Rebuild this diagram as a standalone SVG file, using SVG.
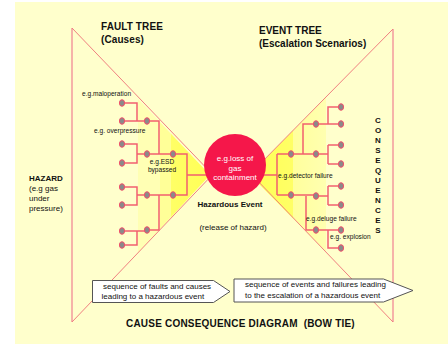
<svg xmlns="http://www.w3.org/2000/svg" width="448" height="344" viewBox="0 0 448 344">
<style>
.t{font-family:"Liberation Sans",Arial,sans-serif;fill:#111}
.b{font-weight:bold}
.s{font-size:6.6px}
.w{font-size:8px}
.tri{stroke:#f08080;stroke-width:1;fill:none}
.vl{stroke:#f4a0a0;stroke-width:1.6;fill:none}
.wire{stroke:#f2606f;stroke-width:1.5;fill:none}
.nd{fill:#8a8a8a;stroke:#f2506a;stroke-width:1}
.box{fill:#fff;stroke:#555;stroke-width:1}
</style>
<defs>
<linearGradient id="gl" x1="138" y1="0" x2="210" y2="0" gradientUnits="userSpaceOnUse">
<stop offset="0" stop-color="#ffffb4"/><stop offset="0.31" stop-color="#ffffb4"/>
<stop offset="0.31" stop-color="#ffff98"/><stop offset="0.46" stop-color="#ffff98"/>
<stop offset="0.46" stop-color="#ffff66"/><stop offset="1" stop-color="#ffff55"/>
</linearGradient>
<linearGradient id="gr" x1="255" y1="0" x2="326" y2="0" gradientUnits="userSpaceOnUse">
<stop offset="0" stop-color="#ffff55"/><stop offset="0.53" stop-color="#ffff66"/>
<stop offset="0.53" stop-color="#ffff9c"/><stop offset="1" stop-color="#ffffb0"/>
</linearGradient>
</defs>
<rect x="15" y="2" width="433" height="342" fill="#ffffcc"/>
<g id="shading">
<polygon points="138,99 210,175 138,253" fill="url(#gl)"/>
<polygon points="326,97 258,166 240,172 256,181 326,252" fill="url(#gr)"/>
</g>
<g id="bowtie">
<line class="vl" x1="72" y1="28" x2="72" y2="322"/>
<line class="tri" x1="72" y1="28" x2="215" y2="177"/>
<line class="tri" x1="72" y1="322" x2="215" y2="172"/>
<line class="vl" x1="393" y1="29" x2="393" y2="322"/>
<line class="tri" x1="393" y1="29" x2="255" y2="169"/>
<line class="tri" x1="393" y1="322" x2="255" y2="178"/>
</g>
<g id="connectors">
<path class="wire" d="M122 103H137V121M122 121H147M122 144H137V163H122M137 154H147M147 121H159V154M147 154H173M122 187H137V205H122M137 195H147M122 231H147M122 245H137V231M147 195H173M147 230H159V195M173 154H187V195H173M187 175H210"/>
<path class="wire" d="M258 175H277M277 154V195M277 154H316M277 195H316M303 154V124H341M328 124V107H341M316 154H328M328 145V164M328 145H341M328 164H341M306 196V230H341M316 196H328M328 186V205M328 186H341M328 205H341M328 230V248H341"/>
</g>
<g id="fault-tree-nodes">
<ellipse class="nd" cx="122" cy="103" rx="2.6" ry="3.3"/>
<ellipse class="nd" cx="122" cy="121" rx="2.6" ry="3.3"/>
<ellipse class="nd" cx="122" cy="144" rx="2.6" ry="3.3"/>
<ellipse class="nd" cx="122" cy="163" rx="2.6" ry="3.3"/>
<ellipse class="nd" cx="122" cy="187" rx="2.6" ry="3.3"/>
<ellipse class="nd" cx="122" cy="205" rx="2.6" ry="3.3"/>
<ellipse class="nd" cx="122" cy="231" rx="2.6" ry="3.3"/>
<ellipse class="nd" cx="122" cy="245" rx="2.6" ry="3.3"/>
<ellipse class="nd" cx="147" cy="121" rx="2.6" ry="3.3"/>
<ellipse class="nd" cx="147" cy="154" rx="2.6" ry="3.3"/>
<ellipse class="nd" cx="147" cy="195" rx="2.6" ry="3.3"/>
<ellipse class="nd" cx="147" cy="230" rx="2.6" ry="3.3"/>
<ellipse class="nd" cx="173" cy="154" rx="2.6" ry="3.3"/>
<ellipse class="nd" cx="173" cy="195" rx="2.6" ry="3.3"/>
</g>
<g id="event-tree-nodes">
<ellipse class="nd" cx="291" cy="154" rx="2.6" ry="3.3"/>
<ellipse class="nd" cx="291" cy="195" rx="2.6" ry="3.3"/>
<ellipse class="nd" cx="316" cy="124" rx="2.6" ry="3.3"/>
<ellipse class="nd" cx="316" cy="154" rx="2.6" ry="3.3"/>
<ellipse class="nd" cx="316" cy="196" rx="2.6" ry="3.3"/>
<ellipse class="nd" cx="316" cy="230" rx="2.6" ry="3.3"/>
<ellipse class="nd" cx="341" cy="107" rx="2.6" ry="3.3"/>
<ellipse class="nd" cx="341" cy="124" rx="2.6" ry="3.3"/>
<ellipse class="nd" cx="341" cy="145" rx="2.6" ry="3.3"/>
<ellipse class="nd" cx="341" cy="164" rx="2.6" ry="3.3"/>
<ellipse class="nd" cx="341" cy="186" rx="2.6" ry="3.3"/>
<ellipse class="nd" cx="341" cy="205" rx="2.6" ry="3.3"/>
<ellipse class="nd" cx="341" cy="230" rx="2.6" ry="3.3"/>
<ellipse class="nd" cx="341" cy="248" rx="2.6" ry="3.3"/>
</g>
<g id="hazardous-event">
<circle cx="235" cy="165" r="31" fill="#f5174a"/>
<text class="t w" x="235" y="161" text-anchor="middle" style="fill:#fff">e.g.loss of</text>
<text class="t w" x="235" y="171" text-anchor="middle" style="fill:#fff">gas</text>
<text class="t w" x="235" y="180" text-anchor="middle" style="fill:#fff">containment</text>
<text class="t w b" x="230" y="207" text-anchor="middle">Hazardous Event</text>
<text class="t w" x="233" y="230" text-anchor="middle">(release of hazard)</text>
</g>
<g id="fault-labels">
<text class="t s" x="82" y="96">e.g.maloperation</text>
<text class="t s" x="94" y="133">e.g. overpressure</text>
<text class="t s" x="162" y="164" text-anchor="middle">e.g.ESD</text>
<text class="t s" x="162" y="172" text-anchor="middle">bypassed</text>
</g>
<g id="event-labels">
<text class="t s" x="278" y="178">e.g.detector failure</text>
<text class="t s" x="306" y="221">e.g.deluge failure</text>
<text class="t s" x="330" y="239">e.g. explosion</text>
</g>
<g id="titles">
<text class="t b" x="101" y="30" font-size="10" letter-spacing="0.1">FAULT TREE</text>
<text class="t b" x="101" y="43" font-size="10" letter-spacing="0.1">(Causes)</text>
<text class="t b" x="259" y="34" font-size="10">EVENT TREE</text>
<text class="t b" x="259" y="47" font-size="10">(Escalation Scenarios)</text>
</g>
<g id="hazard">
<text class="t b w" x="29" y="181">HAZARD</text>
<text class="t w" x="29" y="191">(e.g gas</text>
<text class="t w" x="29" y="201">under</text>
<text class="t w" x="29" y="211">pressure)</text>
</g>
<g id="consequences" class="t b" font-size="8" text-anchor="middle">
<text x="378" y="123">C</text><text x="378" y="133">O</text><text x="378" y="143">N</text>
<text x="378" y="153">S</text><text x="378" y="163">E</text><text x="378" y="173">Q</text>
<text x="378" y="183">U</text><text x="378" y="193">E</text><text x="378" y="203">N</text>
<text x="378" y="213">C</text><text x="378" y="223">E</text><text x="378" y="233">S</text>
</g>
<g id="arrow-faults">
<polygon class="box" points="92.5,280.5 213.5,280.5 230,291.5 213.5,302.5 92.5,302.5"/>
<text class="t w" x="103" y="289">sequence of faults and causes</text>
<text class="t w" x="101.5" y="299">leading to a hazardous event</text>
</g>
<g id="arrow-events">
<polygon class="box" points="234,279 383.5,279 413,290.5 383.5,302 234,302"/>
<text class="t w" x="245" y="287">sequence of events and failures leading</text>
<text class="t w" x="245" y="298">to the escalation of a hazardous event</text>
</g>
<text class="t b" x="126" y="327" font-size="10" letter-spacing="0.2">CAUSE CONSEQUENCE DIAGRAM &#160;(BOW TIE)</text>
</svg>
